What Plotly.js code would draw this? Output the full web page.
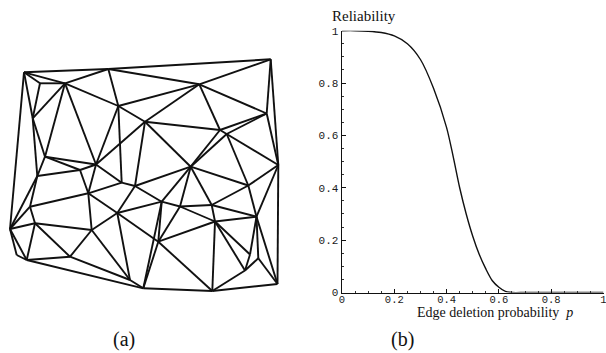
<!DOCTYPE html>
<html>
<head>
<meta charset="utf-8">
<script src="https://cdn.plot.ly/plotly-3.0.1.min.js"></script>
<style>
html,body{margin:0;padding:0;background:#fff;}
#chart{width:606px;height:353px;}
</style>
</head>
<body>
<div id="chart"></div>
<script>
// ---- (a) triangulated mesh: node positions (drawing units) and edges ----
const meshX = [24, 108.3, 270.7, 40, 65, 118.3, 199.3, 145, 266.7, 220,
               226.7, 32.7, 45, 96, 278.3, 80, 37.3, 121.7, 135, 88.3,
               248.3, 117.3, 161.7, 180, 211.7, 30, 215, 256.5, 10, 35,
               91.7, 158.3, 16.7, 26.7, 70, 130, 143.3, 212.3, 277.5, 245,
               258.3, 250, 190.7];
const meshY = [72.3, 69, 59.3, 83.3, 83.3, 106, 84.3, 121.7, 113.5, 130,
               134, 118.3, 156.7, 164.5, 165, 170, 176, 182.7, 186, 193.3,
               185.5, 213, 201.7, 206.5, 205, 206.7, 221.5, 216.7, 229, 223.3,
               230, 241.7, 255, 260, 256.7, 280, 288.3, 291, 284, 270.5,
               258.3, 254.5, 166.7];
const meshEdges = [
  [0,1],[1,2],[2,8],[2,14],[8,14],[14,38],[38,37],[37,36],[36,35],
  [0,28],[28,32],[32,33],[33,36],
  [0,3],[3,4],[0,4],[0,11],[3,11],[4,1],[4,11],[4,12],[4,13],[1,5],[4,5],
  [1,6],[5,6],[6,2],[6,8],[6,7],[6,9],[5,7],[5,13],[5,17],[7,13],[7,18],
  [7,42],[7,9],[8,9],[8,10],[9,10],[9,42],[10,42],[10,14],[10,20],[14,20],
  [14,27],[42,20],[42,18],[42,22],[42,23],[42,24],
  [11,12],[11,16],[12,13],[12,15],[12,16],[13,15],[13,19],[13,17],
  [15,16],[15,19],[16,25],[16,28],[25,28],[25,19],[19,17],[17,18],[19,21],
  [18,21],[18,22],[21,22],[19,30],[21,30],[21,35],[21,31],
  [28,29],[29,30],[25,29],[29,34],[30,34],[29,33],[28,33],[33,34],[34,35],
  [30,35],
  [22,23],[23,24],[20,24],[20,27],[24,26],[24,27],[26,27],[23,26],[22,31],
  [23,31],[26,31],[26,37],[26,39],[26,41],[27,41],[27,40],[27,38],
  [41,39],[40,39],[40,38],[39,37],[31,37],[31,36],[22,36]
];

// ---- (b) reliability curve ----
const pValues = [0, 0.05, 0.1, 0.15, 0.2, 0.25, 0.3, 0.35, 0.4, 0.425, 0.45,
                 0.475, 0.5, 0.525, 0.55, 0.575, 0.6, 0.625, 0.65, 0.7, 0.8, 0.9, 1.0];
const reliability = [1.0, 1.0, 0.998, 0.993, 0.98, 0.95, 0.89, 0.78, 0.63, 0.52, 0.40,
                     0.30, 0.215, 0.145, 0.09, 0.045, 0.02, 0.004, 0.0, 0.0, 0.0, 0.0, 0.0];
const tickVals = [0, 0.2, 0.4, 0.6, 0.8, 1];
const tickText = ["0", "0.2", "0.4", "0.6", "0.8", "1"];

// build mesh segments
const ex = [], ey = [];
meshEdges.forEach(([a, b]) => {
  ex.push(meshX[a], meshX[b], null);
  ey.push(meshY[a], meshY[b], null);
});

const traces = [
  {x: ex, y: ey, type: 'scatter', mode: 'lines', xaxis: 'x', yaxis: 'y',
   line: {color: '#111', width: 1.9}, hoverinfo: 'skip', showlegend: false},
  {x: pValues, y: reliability, type: 'scatter', mode: 'lines', xaxis: 'x2', yaxis: 'y2',
   line: {color: '#111', width: 1.4, shape: 'spline', smoothing: 0.8},
   showlegend: false}
];

const W = 606, H = 353;
const tickFont = {family: 'Liberation Mono, DejaVu Sans Mono, monospace', size: 11, color: '#1a1a1a'};
const xTickFont = {family: 'Liberation Mono, DejaVu Sans Mono, monospace', size: 10.5, color: '#1a1a1a'};
const layout = {
  width: W, height: H,
  margin: {l: 0, r: 0, t: 0, b: 0},
  paper_bgcolor: '#fff', plot_bgcolor: 'rgba(0,0,0,0)',
  showlegend: false,
  xaxis: {domain: [0, 300 / W], range: [0, 300], visible: false, fixedrange: true},
  yaxis: {domain: [0, 1], range: [H, 0], visible: false, fixedrange: true},
  xaxis2: {
    domain: [342 / W, 603.5 / W], range: [0, 1], anchor: 'y2',
    showline: true, linecolor: '#111', linewidth: 1.4, showgrid: false, zeroline: false,
    ticks: 'inside', ticklen: 4, tickcolor: '#111', tickwidth: 1,
    tickvals: tickVals, ticktext: tickText, tickfont: xTickFont, ticklabelstandoff: -4,
    ticklabeloverflow: 'allow',
    minor: {dtick: 0.05, ticks: 'inside', ticklen: 2, tickcolor: '#333', showgrid: false}
  },
  yaxis2: {
    domain: [1 - 292.5 / H, 1 - 30.7 / H], range: [0, 1], anchor: 'x2',
    showline: true, linecolor: '#111', linewidth: 1.4, showgrid: false, zeroline: false,
    ticks: 'inside', ticklen: 4, tickcolor: '#111', tickwidth: 1,
    tickvals: tickVals, ticktext: tickText, tickfont: tickFont, ticklabeloverflow: 'allow',
    minor: {dtick: 0.05, ticks: 'inside', ticklen: 2, tickcolor: '#333', showgrid: false}
  },
  annotations: [
    {text: 'Reliability', xref: 'paper', yref: 'paper', x: 364 / W, y: 1 - 16 / H,
     showarrow: false, xanchor: 'center', yanchor: 'middle',
     font: {family: 'Liberation Serif, Times New Roman, serif', size: 15, color: '#111'}},
    {text: 'Edge deletion probability  <i>p</i>', xref: 'paper', yref: 'paper', x: 495 / W, y: 1 - 312 / H,
     showarrow: false, xanchor: 'center', yanchor: 'middle',
     font: {family: 'Liberation Serif, Times New Roman, serif', size: 14, color: '#111'}},
    {text: '(a)', xref: 'paper', yref: 'paper', x: 124 / W, y: 1 - 339 / H,
     showarrow: false, xanchor: 'center', yanchor: 'middle',
     font: {family: 'Liberation Serif, Times New Roman, serif', size: 20, color: '#111'}},
    {text: '(b)', xref: 'paper', yref: 'paper', x: 402 / W, y: 1 - 339 / H,
     showarrow: false, xanchor: 'center', yanchor: 'middle',
     font: {family: 'Liberation Serif, Times New Roman, serif', size: 20, color: '#111'}}
  ]
};

Plotly.newPlot('chart', traces, layout, {staticPlot: true, displayModeBar: false});
</script>
</body>
</html>
